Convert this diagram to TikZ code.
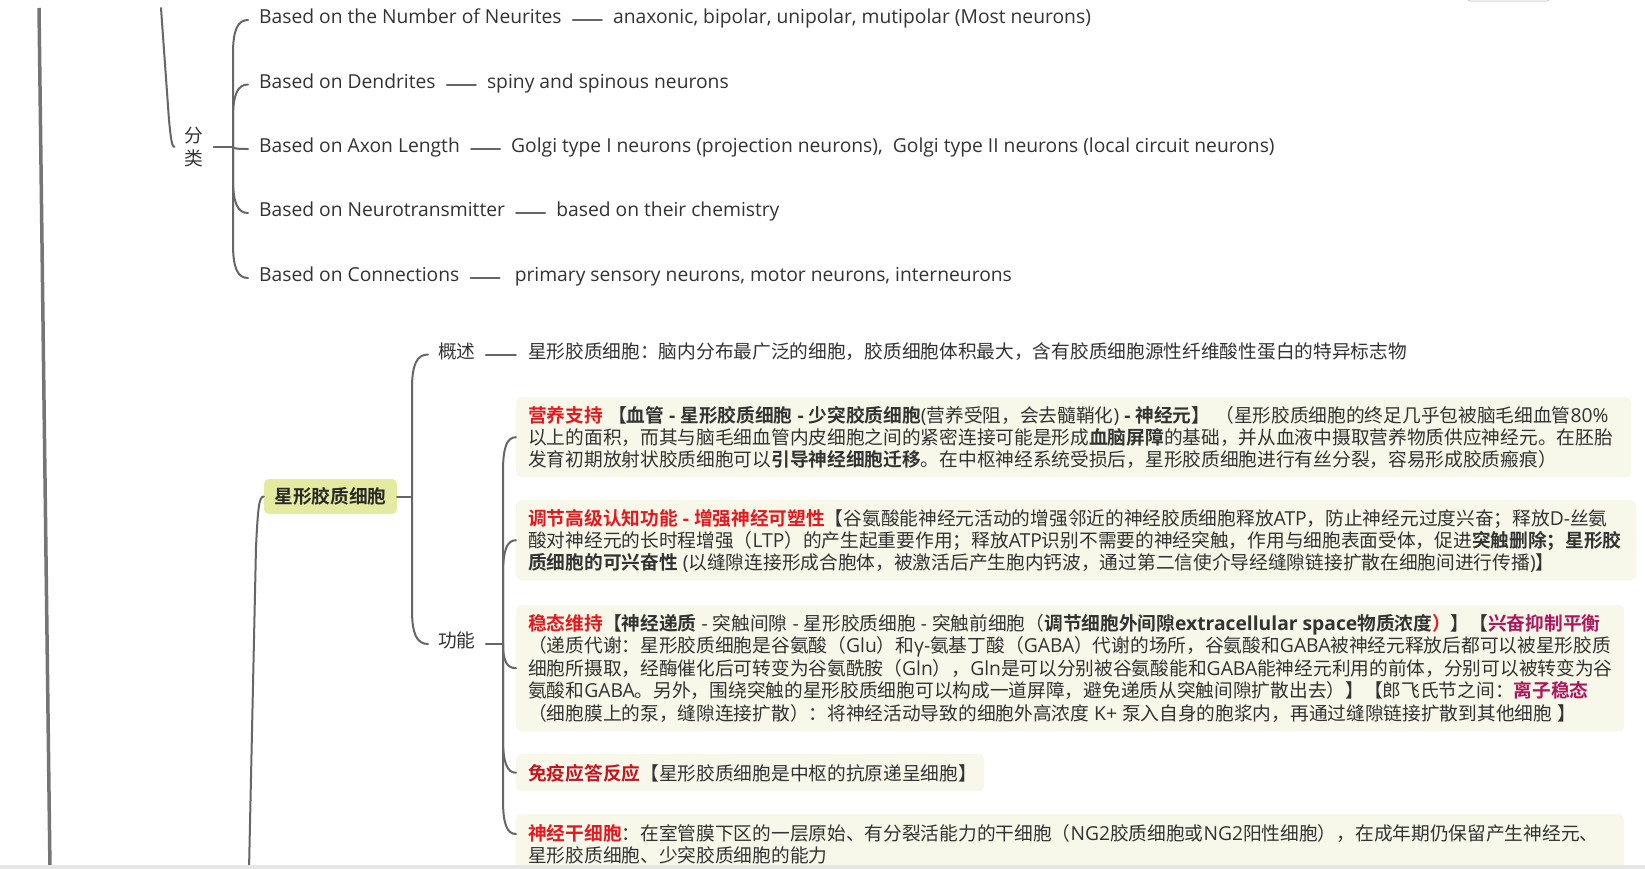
\documentclass[tikz,border=0pt]{standalone}
\usepackage{fontspec}
\setmainfont{Open Sans}[Scale=1.03]
\newfontfamily\cjkfam{Noto Sans CJK SC}[BoldFont={Noto Sans CJK SC Bold}]
\XeTeXinterchartokenstate=1
\newXeTeXintercharclass\cjkcls
\newcount\cjkcnt
\cjkcnt="3000
\loop\XeTeXcharclass\cjkcnt=\cjkcls \ifnum\cjkcnt<"9FFF \advance\cjkcnt by 1 \repeat
\cjkcnt="FF00
\loop\XeTeXcharclass\cjkcnt=\cjkcls \ifnum\cjkcnt<"FFEF \advance\cjkcnt by 1 \repeat
\XeTeXinterchartoks 0 \cjkcls={\begingroup\cjkfam}
\XeTeXinterchartoks 4095 \cjkcls={\begingroup\cjkfam}
\XeTeXinterchartoks \cjkcls 0={\endgroup}
\XeTeXinterchartoks \cjkcls 4095={\endgroup}
\usetikzlibrary{calc}
\definecolor{lineg}{HTML}{666666}
\definecolor{txt}{HTML}{333333}
\definecolor{hired}{HTML}{E8171D}
\definecolor{dkred}{HTML}{C8141E}
\definecolor{crim}{HTML}{B0155C}
\definecolor{boxfill}{HTML}{F7F8E9}
\definecolor{nodefill}{HTML}{E4EBA0}
\definecolor{bandg}{HTML}{E6E6E6}
\newcommand\rd[1]{\textcolor{hired}{\bfseries #1}}
\newcommand\bd[1]{{\bfseries #1}}
\newcommand\crm[1]{\textcolor{crim}{\bfseries #1}}
\newcommand\brc[2]{\draw[conn] let \p1=(#1), \p2=(#2), \n1={sign(\y2-\y1)}, \n2={min(34,abs(\y2-\y1))} in (\p1) -- ({\x1},{\y2-\n1*\n2}) .. controls ({\x1},{\y2-\n1*\n2*0.3}) and ({\x1+0.3*(\x2-\x1)},{\y2}) .. (\p2);}
\begin{document}
\begin{tikzpicture}[x=1pt,y=-1pt,
  font=\fontsize{18.7}{22.3}\selectfont,
  conn/.style={draw=lineg, line width=2pt, line cap=round},
  mainline/.style={draw=lineg!90!white, line width=3.5pt},
  tn/.style={anchor=west, inner xsep=11pt, inner ysep=0pt, text height=0.73em, text depth=0pt, text=txt},
  hub/.style={fill=nodefill, rounded corners=5pt, minimum width=133pt, minimum height=35pt, inner sep=0pt, text=txt!80!black, font=\fontsize{18.7}{22.3}\selectfont\bfseries},
  bx/.style={fill=boxfill, rounded corners=5pt, anchor=north west, inner sep=0pt},
  btxt/.style={anchor=base west, inner sep=0pt, text=txt}]
\useasboundingbox (0,0) rectangle (1645,868);
\fill[white] (0,0) rectangle (1645,868);

% left lines
\coordinate (lt) at (39,8);
\coordinate (lb) at (50,870);
\draw[mainline] (lt) -- (lb);

% classification branch
\node[inner xsep=10pt, inner ysep=0pt, align=center, text=txt] (fenlei) at (194,147) {分\\类};
\coordinate (ft) at (161,8);
\draw[conn] (ft) -- (169,120) .. controls (171,140) and (172,147) .. (fenlei.west);
\coordinate (fsp) at (233,147);
\draw[conn] (fenlei.east) -- (fsp);

\node[tn] (c1) at (248,20) {Based on the Number of Neurites};
\node[tn] (c2) at (248,84.5) {Based on Dendrites};
\node[tn] (c3) at (248,149) {Based on Axon Length};
\node[tn] (c4) at (248,213) {Based on Neurotransmitter};
\node[tn] (c5) at (248,278) {Based on Connections};
\node[tn] (d1) at ([xshift=29pt]c1.east) {anaxonic, bipolar, unipolar, mutipolar (Most neurons)};
\node[tn] (d2) at ([xshift=29pt]c2.east) {spiny and spinous neurons};
\node[tn] (d3) at ([xshift=29pt]c3.east) {Golgi type I neurons (projection neurons),\ \ Golgi type II neurons (local circuit neurons)};
\node[tn] (d4) at ([xshift=29pt]c4.east) {based on their chemistry};
\node[tn] (d5) at ([xshift=29pt]c5.east) {\hspace{4pt}primary sensory neurons, motor neurons, interneurons};
\foreach \i in {1,...,5} {\brc{fsp}{c\i.west}}
\foreach \i in {1,...,5} {\draw[conn] (c\i.east) -- (d\i.west);}

% astrocyte branch
\node[hub] (xing) at (330.5,496.5) {星形胶质细胞};
\coordinate (xb) at (249,870);
\draw[conn] (xb) -- (256,547) .. controls (258,507) and (259,496.5) .. (xing.west);
\coordinate (xsp) at (412,496.5);
\draw[conn] (xing.east) -- (xsp);
\node[tn, inner xsep=10pt] (gaishu) at (428,354.5) {概述};
\node[tn, inner xsep=12pt] (gsdesc) at ([xshift=30pt]gaishu.east) {星形胶质细胞：脑内分布最广泛的细胞，胶质细胞体积最大，含有胶质细胞源性纤维酸性蛋白的特异标志物};
\node[tn, inner xsep=10pt] (gongneng) at (428,644) {功能};
\brc{xsp}{gaishu.west}
\brc{xsp}{gongneng.west}
\draw[conn] (gaishu.east) -- (gsdesc.west);
\coordinate (gsp) at (503,644);
\draw[conn] (gongneng.east) -- (gsp);

% boxes
\node[bx, minimum width=1115pt, minimum height=80pt] (b1) at (516,397) {};
\node[bx, minimum width=1120pt, minimum height=80pt] (b2) at (516,500) {};
\node[bx, minimum width=1108pt, minimum height=126pt] (b3) at (516,605) {};
\node[bx, minimum width=468pt, minimum height=37pt] (b4) at (516,754) {};
\node[bx, minimum width=1108pt, minimum height=80pt] (b5) at (516,814) {};
\coordinate (b5c) at ([yshift=-20pt]b5.north west);
\brc{gsp}{b1.west}
\brc{gsp}{b2.west}
\brc{gsp}{b3.west}
\brc{gsp}{b4.west}
\brc{gsp}{b5c}

\node[btxt] (b1a) at (528,422) {\rd{营养支持} \bd{【血管 - 星形胶质细胞 - 少突胶质细胞}(营养受阻，会去髓鞘化) \bd{- 神经元】} （星形胶质细胞的终足几乎包被脑毛细血管80\%};
\node[btxt] (b1b) at (528,444) {以上的面积，而其与脑毛细血管内皮细胞之间的紧密连接可能是形成\bd{血脑屏障}的基础，并从血液中摄取营养物质供应神经元。在胚胎};
\node[btxt] (b1c) at (528,466) {发育初期放射状胶质细胞可以\bd{引导神经细胞迁移}。在中枢神经系统受损后，星形胶质细胞进行有丝分裂，容易形成胶质瘢痕）};

\node[btxt] (b2a) at (528,525.5) {\rd{调节高级认知功能 - 增强神经可塑性}【谷氨酸能神经元活动的增强邻近的神经胶质细胞释放ATP，防止神经元过度兴奋；释放D-丝氨};
\node[btxt] (b2b) at (528,547.5) {酸对神经元的长时程增强（LTP）的产生起重要作用；释放ATP识别不需要的神经突触，作用与细胞表面受体，促进\bd{突触删除；星形胶}};
\node[btxt] (b2c) at (528,569.5) {\bd{质细胞的可兴奋性} (以缝隙连接形成合胞体，被激活后产生胞内钙波，通过第二信使介导经缝隙链接扩散在细胞间进行传播)】};

\node[btxt] (b3a) at (528,630) {\rd{稳态维持}\bd{【神经递质} - 突触间隙 - 星形胶质细胞 - 突触前细胞（\bd{调节细胞外间隙extracellular space物质浓度}\rd{）}\bd{】【}\crm{兴奋抑制平衡}};
\node[btxt] (b3b) at (528,652.5) {（递质代谢：星形胶质细胞是谷氨酸（Glu）和γ-氨基丁酸（GABA）代谢的场所，谷氨酸和GABA被神经元释放后都可以被星形胶质};
\node[btxt] (b3c) at (528,675) {细胞所摄取，经酶催化后可转变为谷氨酰胺（Gln），Gln是可以分别被谷氨酸能和GABA能神经元利用的前体，分别可以被转变为谷};
\node[btxt] (b3d) at (528,697.5) {氨酸和GABA。另外，围绕突触的星形胶质细胞可以构成一道屏障，避免递质从突触间隙扩散出去）】【郎飞氏节之间：\crm{离子稳态}};
\node[btxt] (b3e) at (528,720) {（细胞膜上的泵，缝隙连接扩散）：将神经活动导致的细胞外高浓度 K+ 泵入自身的胞浆内，再通过缝隙链接扩散到其他细胞 】};

\node[btxt] (b4a) at (528,780.5) {\textcolor{dkred}{\bfseries 免疫应答反应}【星形胶质细胞是中枢的抗原递呈细胞】};

\node[btxt] (b5a) at (528,840.5) {\rd{神经干细胞}：在室管膜下区的一层原始、有分裂活能力的干细胞（NG2胶质细胞或NG2阳性细胞），在成年期仍保留产生神经元、};
\node[btxt] (b5b) at (528,862.5) {星形胶质细胞、少突胶质细胞的能力};

% frame details
\draw[gray!35, line width=1pt, rounded corners=2pt] (1468,-5) -- (1468,1) -- (1549,1) -- (1549,-5);
\fill[bandg] (0,864.5) rectangle (1645,870);
\end{tikzpicture}
\end{document}
